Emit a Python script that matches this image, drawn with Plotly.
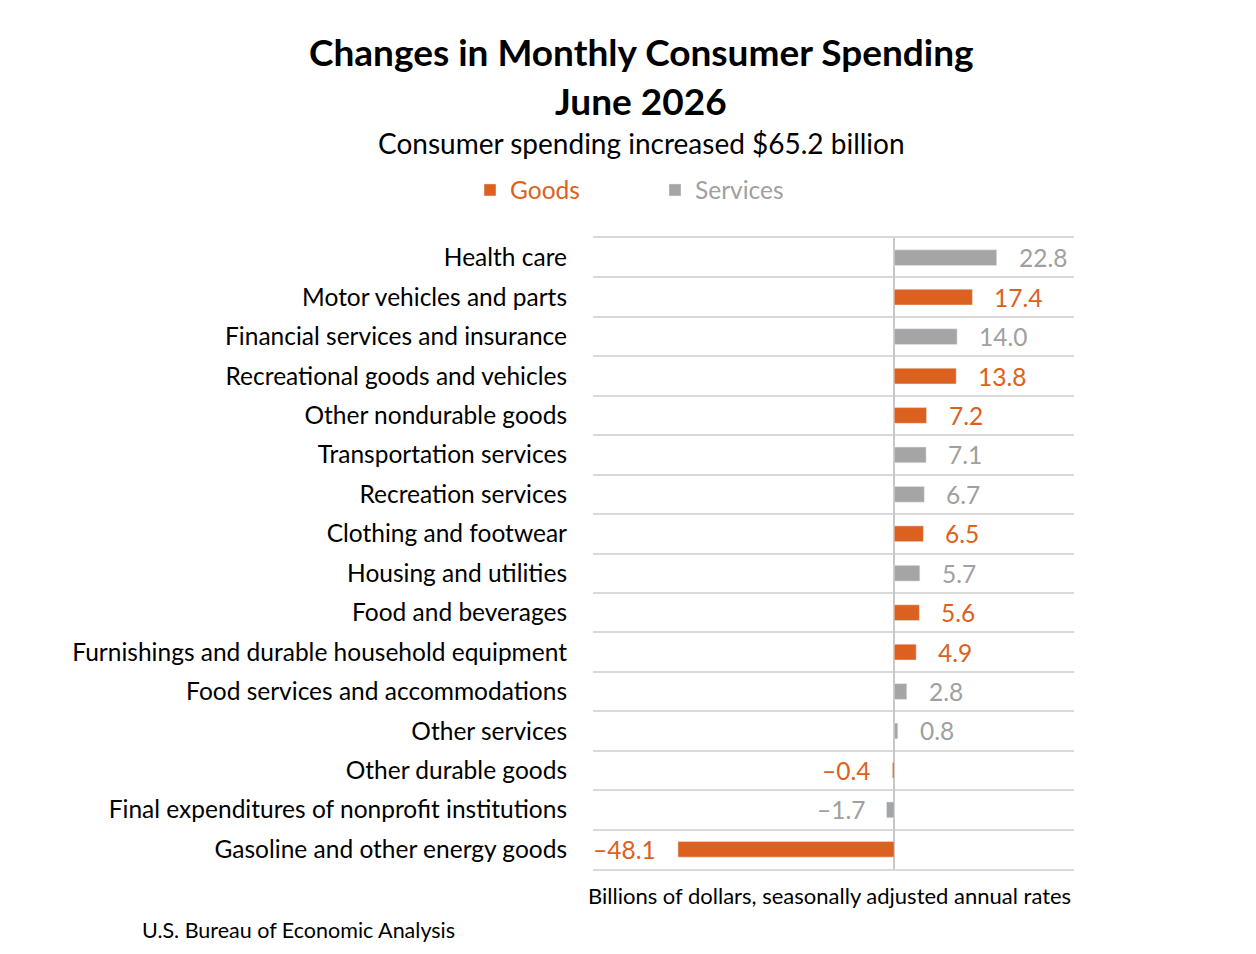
import plotly.graph_objects as go

# categories top to bottom
categories = [
    "Health care",
    "Motor vehicles and parts",
    "Financial services and insurance",
    "Recreational goods and vehicles",
    "Other nondurable goods",
    "Transportation services",
    "Recreation services",
    "Clothing and footwear",
    "Housing and utilities",
    "Food and beverages",
    "Furnishings and durable household equipment",
    "Food services and accommodations",
    "Other services",
    "Other durable goods",
    "Final expenditures of nonprofit institutions",
    "Gasoline and other energy goods",
]
values = [22.8, 17.4, 14.0, 13.8, 7.2, 7.1, 6.7, 6.5, 5.7, 5.6, 4.9, 2.8, 0.8, -0.4, -1.7, -48.1]
kinds = ["S", "G", "S", "G", "G", "S", "S", "G", "S", "G", "G", "S", "S", "G", "S", "G"]

ORANGE = "#DC6120"
GRAY = "#A5A5A5"
GRAY_TXT = "#A0A0A0"
FONT = "Lato"

goods_y = [c for c, k in zip(categories, kinds) if k == "G"]
goods_x = [v for v, k in zip(values, kinds) if k == "G"]
serv_y = [c for c, k in zip(categories, kinds) if k == "S"]
serv_x = [v for v, k in zip(values, kinds) if k == "S"]

fig = go.Figure()
fig.add_trace(go.Bar(x=goods_x, y=goods_y, orientation="h", width=0.4,
                     marker_color=ORANGE, name=f"<span style='color:{ORANGE}'>Goods</span>"))
fig.add_trace(go.Bar(x=serv_x, y=serv_y, orientation="h", width=0.4,
                     marker_color=GRAY, name=f"<span style='color:{GRAY_TXT}'>Services</span>"))

# page has an 8px body margin; figure is drawn inside it
OFF = 8
W, H = 1240, 938
L, R, T, B = 593 - OFF, 1074 - OFF, 238 - OFF, 869 - OFF


def px(xp, yp):
    xp, yp = xp - OFF, yp - OFF
    return (xp - L) / (R - L), (B - yp) / (B - T)


def fmt(v):
    s = f"{abs(v):.1f}"
    return s if v >= 0 else "\u2013" + s


annotations = []
for c, v, k in zip(categories, values, kinds):
    annotations.append(dict(
        x=v, y=c, xref="x", yref="y", text=fmt(v), showarrow=False,
        xanchor="left" if v >= 0 else "right", xshift=20 if v >= 0 else -20,
        font=dict(family=FONT, size=24.5, color=ORANGE if k == "G" else GRAY_TXT),
    ))

for text, xp, yp, size, bold, anchor in [
    ("Changes in Monthly Consumer Spending", 641, 52, 37, True, "center"),
    ("June 2026", 641, 100, 37, True, "center"),
    ("Consumer spending increased $65.2 billion", 641, 143, 28, False, "center"),
    ("Billions of dollars, seasonally adjusted annual rates", 829, 896, 22, False, "center"),
    ("U.S. Bureau of Economic Analysis", 140, 930, 21.5, False, "left"),
]:
    xx, yy = px(xp, yp)
    annotations.append(dict(
        x=xx, y=yy, xref="paper", yref="paper", showarrow=False,
        text=f"<b>{text}</b>" if bold else text, xanchor=anchor, yanchor="middle",
        font=dict(family=FONT, size=size, color="black"),
    ))

lx, ly = px(470, 190)
fig.update_layout(
    width=W, height=H,
    margin=dict(l=L, r=W - R, t=T, b=H - B, pad=0),
    paper_bgcolor="white", plot_bgcolor="white",
    barmode="overlay",
    showlegend=True,
    legend=dict(orientation="h", x=lx, y=ly, xanchor="left", yanchor="middle",
                font=dict(family=FONT, size=24.5), itemwidth=30,
                entrywidth=140, traceorder="normal"),
    annotations=annotations,
    xaxis=dict(range=[-67, 40], showgrid=False, showticklabels=False, ticks="",
               zeroline=True, zerolinecolor="#C8C8C8", zerolinewidth=1.5,
               showline=True, mirror=True, linecolor="#D9D9D9", linewidth=2),
    yaxis=dict(categoryorder="array", categoryarray=categories, autorange="reversed",
               tickson="boundaries", showgrid=True, gridcolor="#D9D9D9", gridwidth=2,
               ticks="", ticklabelstandoff=25,
               tickfont=dict(family=FONT, size=24.5, color="black")),
)

fig.write_html("out.html")
